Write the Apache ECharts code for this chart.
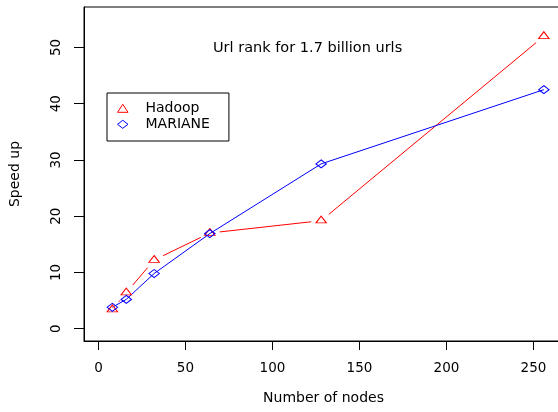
<!DOCTYPE html>
<html>
<head>
<meta charset="utf-8">
<script src="https://cdn.jsdelivr.net/npm/echarts@6/dist/echarts.min.js"></script>
<style>
html,body{margin:0;padding:0;background:#fff;}
#c{width:558px;height:412px;}
</style>
</head>
<body>
<div id="c"></div>
<script>
// ---- data ----
const nodes = [8, 16, 32, 64, 128, 256];
const hadoop = [3.4, 6.4, 12.2, 17.0, 19.2, 52.0];
const mariane = [3.8, 5.2, 9.8, 16.9, 29.3, 42.5];
const xTicks = [0, 50, 100, 150, 200, 250];
const yTicks = [0, 10, 20, 30, 40, 50];
const seriesNames = ['Hadoop', 'MARIANE'];
const titleText = 'Url rank for 1.7 billion urls';
const xName = 'Number of nodes';
const yName = 'Speed up';

const FONT = 'DejaVu Sans';
const FS = 13.5;
const RED = '#ff0000';
const BLUE = '#0000ff';
const GAP = 10;

const chart = echarts.init(document.getElementById('c'), null, {renderer: 'canvas'});

const option = {
  backgroundColor: '#ffffff',
  animation: false,
  title: {
    text: titleText,
    left: 213, top: 41, padding: 0,
    textStyle: {fontFamily: FONT, fontSize: 14.5, fontWeight: 'normal', color: '#000'}
  },
  legend: {
    orient: 'vertical',
    left: 107, top: 93,
    padding: [7.3, 19, 8.7, 10],
    itemGap: 0,
    itemWidth: 10.5, itemHeight: 8,
    symbolKeepAspect: false,
    borderColor: '#000', borderWidth: 1, borderRadius: 0,
    backgroundColor: '#fff',
    selectedMode: false,
    textStyle: {fontFamily: FONT, fontSize: 14, color: '#000', lineHeight: 16, padding: [0, 0, 0, 12.5]},
    data: [
      {name: seriesNames[0], icon: 'triangle', itemStyle: {color: 'rgba(0,0,0,0)', borderColor: RED, borderWidth: 1}},
      {name: seriesNames[1], icon: 'diamond', itemStyle: {color: 'rgba(0,0,0,0)', borderColor: BLUE, borderWidth: 1}}
    ]
  },
  grid: {
    left: 84, top: 7, right: -5, bottom: 71,
    show: true, borderColor: '#000', borderWidth: 1, backgroundColor: 'transparent',
    containLabel: false, outerBoundsMode: 'none'
  },
  xAxis: {
    type: 'value', min: -8.3, max: 267,
    name: xName, nameLocation: 'middle', nameGap: 50,
    nameTextStyle: {fontFamily: FONT, fontSize: 14, color: '#000'},
    axisLine: {show: true, onZero: false, lineStyle: {color: '#000', width: 1}},
    axisTick: {show: true, length: 9, lineStyle: {color: '#000'}, customValues: xTicks},
    axisLabel: {show: true, margin: 20, fontFamily: FONT, fontSize: FS, color: '#000', customValues: xTicks},
    splitLine: {show: false}
  },
  yAxis: {
    type: 'value', min: -2.2, max: 57.2,
    name: yName, nameLocation: 'middle', nameGap: 62, nameRotate: 90,
    nameTextStyle: {fontFamily: FONT, fontSize: 14, color: '#000'},
    axisLine: {show: true, onZero: false, lineStyle: {color: '#000', width: 1}},
    axisTick: {show: true, length: 10, lineStyle: {color: '#000'}, customValues: yTicks},
    axisLabel: {show: true, rotate: 90, margin: 21, fontFamily: FONT, fontSize: FS, color: '#000', customValues: yTicks},
    splitLine: {show: false}
  },
  series: [
    {
      type: 'custom', name: 'Hadoop line', silent: true, z: 2,
      data: nodes.map((n, i) => [n, hadoop[i]]),
      encode: {x: 0, y: 1},
      renderItem: function (params, api) {
        const i = params.dataIndex;
        if (i === 0) return null;
        const p0 = api.coord([nodes[i - 1], hadoop[i - 1]]);
        const p1 = api.coord([api.value(0), api.value(1)]);
        const dx = p1[0] - p0[0], dy = p1[1] - p0[1];
        const d = Math.sqrt(dx * dx + dy * dy);
        if (d <= 2 * GAP) return null;
        const ux = dx / d, uy = dy / d;
        return {
          type: 'line',
          shape: {x1: p0[0] + ux * GAP, y1: p0[1] + uy * GAP, x2: p1[0] - ux * GAP, y2: p1[1] - uy * GAP},
          style: {stroke: RED, lineWidth: 1}
        };
      }
    },
    {
      type: 'scatter', name: seriesNames[0], z: 3,
      data: nodes.map((n, i) => [n, hadoop[i]]),
      symbol: 'triangle', symbolSize: [10.5, 6.8], symbolOffset: [0, -1.1],
      itemStyle: {color: 'rgba(0,0,0,0)', borderColor: RED, borderWidth: 1, opacity: 1}
    },
    {
      type: 'line', name: seriesNames[1], z: 3,
      data: nodes.map((n, i) => [n, mariane[i]]),
      symbol: 'diamond', symbolSize: [10.5, 8], showSymbol: true,
      lineStyle: {color: BLUE, width: 1},
      itemStyle: {color: 'rgba(0,0,0,0)', borderColor: BLUE, borderWidth: 1}
    }
  ]
};
chart.setOption(option);
</script>
</body>
</html>
